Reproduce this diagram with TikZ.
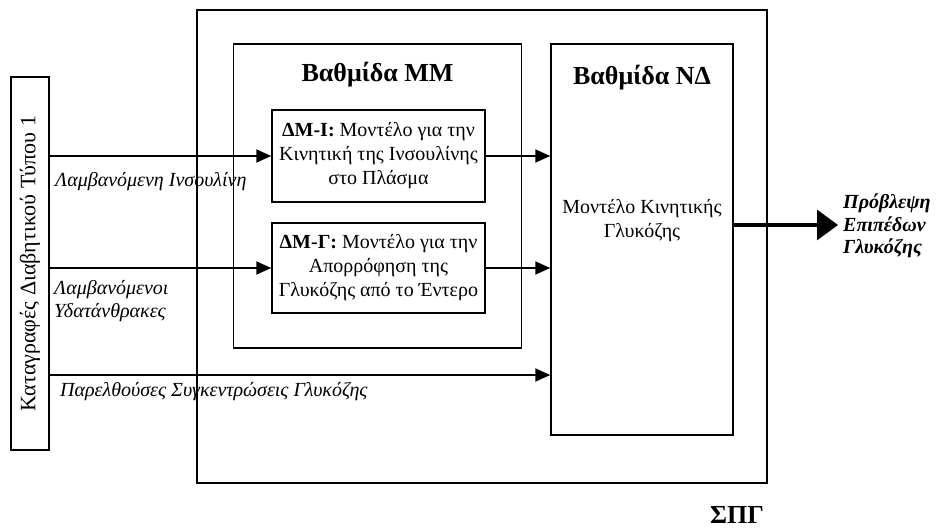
\documentclass[tikz,border=0pt]{standalone}
\usepackage{fontspec}
\setmainfont{Liberation Serif}
\usetikzlibrary{arrows.meta}
\tikzset{
  box/.style={draw, line width=1.5pt, rectangle, inner sep=0pt},
  conn/.style={line width=2pt, -{Triangle[length=15pt,width=13pt]}},
  bigconn/.style={line width=3.2pt, -{Triangle[length=21pt,width=30pt]}},
  lbl/.style={font=\fontsize{20}{22.5}\selectfont\itshape, anchor=west, align=left, inner sep=0pt},
  body/.style={font=\fontsize{20}{24}\selectfont, align=center},
  ttl/.style={font=\fontsize{26}{30}\selectfont\bfseries}
}
\begin{document}
\begin{tikzpicture}[x=1pt,y=-1pt]
\useasboundingbox (0,0) rectangle (948,529);
% outer system box and its label
\node[box, minimum width=570pt, minimum height=473pt] (spg) at (482,246.5) {};
\node[ttl] (spglbl) at (737,515) {ΣΠΓ};
% left data source
\node[box, minimum width=38pt, minimum height=373pt] (src) at (30,263.5) {};
\node[rotate=90, font=\fontsize{22}{26}\selectfont] (srct) at (src.center) {Καταγραφές Διαβητικού Τύπου 1};
% MM stage
\node[box, minimum width=288pt, minimum height=304pt] (mm) at (377.5,196) {};
\node[ttl] (mmt) at (377.5,75) {Βαθμίδα ΜΜ};
\node[box, minimum width=213pt, minimum height=92pt, body] (dmi) at (378.5,156)
  {\textbf{ΔΜ-Ι:} Μοντέλο για την\\Κινητική της Ινσουλίνης\\στο Πλάσμα};
\node[box, minimum width=213pt, minimum height=90pt, body] (dmg) at (378.5,268)
  {\textbf{ΔΜ-Γ:} Μοντέλο για την\\Απορρόφηση της\\Γλυκόζης από το Έντερο};
% ND stage
\node[box, minimum width=182pt, minimum height=391pt] (nd) at (642,239.5) {};
\node[ttl] (ndt) at (642,78) {Βαθμίδα ΝΔ};
\node[body] (ndb) at (642,221) {Μοντέλο Κινητικής\\Γλυκόζης};
% connectors
\coordinate (past) at (100,375);
\coordinate (outend) at (838,225);
\draw[conn] (src.east |- dmi.west) -- (dmi.west);
\draw[conn] (src.east |- dmg.west) -- (dmg.west);
\draw[conn] (src.east |- past) -- (nd.west |- past);
\draw[conn] (dmi.east) -- (nd.west |- dmi.east);
\draw[conn] (dmg.east) -- (nd.west |- dmg.east);
\draw[bigconn] (nd.east |- outend) -- (outend);
% labels
\node[lbl] (l1) at (55,182) {Λαμβανόμενη Ινσουλίνη};
\node[lbl] (l2) at (54,301) {Λαμβανόμενοι\\Υδατάνθρακες};
\node[lbl] (l3) at (60,392) {Παρελθούσες Συγκεντρώσεις Γλυκόζης};
\node[lbl, font=\fontsize{20}{22.5}\selectfont\bfseries\itshape] (out) at (843,226) {Πρόβλεψη\\Επιπέδων\\Γλυκόζης};
\end{tikzpicture}
\end{document}
